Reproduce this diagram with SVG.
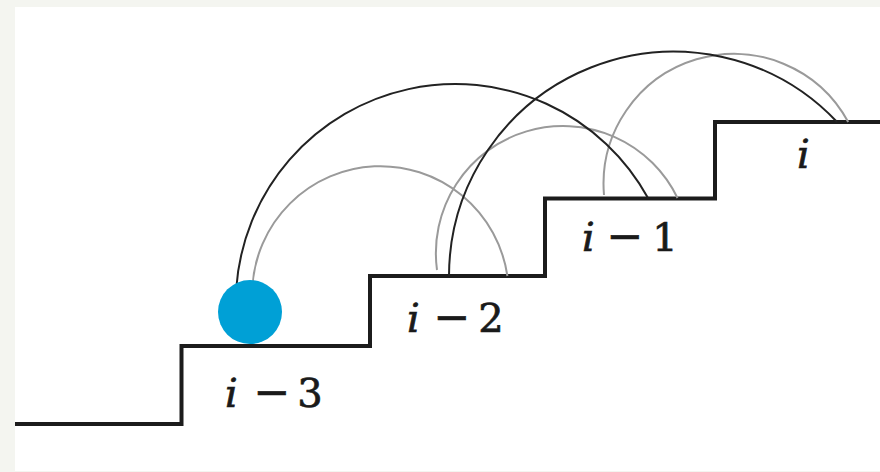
<svg xmlns="http://www.w3.org/2000/svg" width="880" height="472" viewBox="0 0 880 472">
  <style>
    .stairs { fill: none; stroke: #1c1c1c; stroke-width: 4; stroke-linejoin: miter; }
    .jump2 { fill: none; stroke: #222; stroke-width: 2; }
    .jump1 { fill: none; stroke: #9a9a9a; stroke-width: 2; }
    text { font-family: 'DejaVu Serif', serif; font-size: 40px; fill: #1a1a1a; stroke: #1a1a1a; stroke-width: 0.7; }
    .it { font-style: italic; }
    .op { font-size: 44px; }
  </style>
  <rect x="0" y="0" width="880" height="472" fill="#f4f5f0"/>
  <rect x="15" y="7" width="865" height="464" fill="#ffffff"/>

  <g id="stairs">
    <path class="stairs" d="M15,424 H181.5 V346 H370 V276 H545 V198.5 H715 V122 H880"/>
  </g>

  <g id="connectors">
    <path class="jump1" d="M252.3,288 A128.3,128.3 0 0 1 507.4,276"/>
    <path class="jump1" d="M437,270 A127.1,127.1 0 0 1 677.5,198"/>
    <path class="jump1" d="M604,195 A130.2,130.2 0 0 1 848.2,122"/>
    <path class="jump2" d="M236.3,288 A219.7,219.7 0 0 1 648,198"/>
    <path class="jump2" d="M449,276 A224.8,224.8 0 0 1 837.1,122"/>
  </g>

  <g id="ball">
    <circle cx="250" cy="312" r="32" fill="#00a0d6"/>
  </g>

  <g id="step-i-3">
    <text y="407"><tspan class="it" x="225">i</tspan><tspan class="op" x="272" text-anchor="middle">−</tspan><tspan x="310" text-anchor="middle">3</tspan></text>
  </g>
  <g id="step-i-2">
    <text y="332"><tspan class="it" x="407">i</tspan><tspan class="op" x="452" text-anchor="middle">−</tspan><tspan x="491" text-anchor="middle">2</tspan></text>
  </g>
  <g id="step-i-1">
    <text y="251"><tspan class="it" x="582">i</tspan><tspan class="op" x="625" text-anchor="middle">−</tspan><tspan x="665" text-anchor="middle">1</tspan></text>
  </g>
  <g id="step-i">
    <text y="168"><tspan class="it" x="797">i</tspan></text>
  </g>
</svg>
